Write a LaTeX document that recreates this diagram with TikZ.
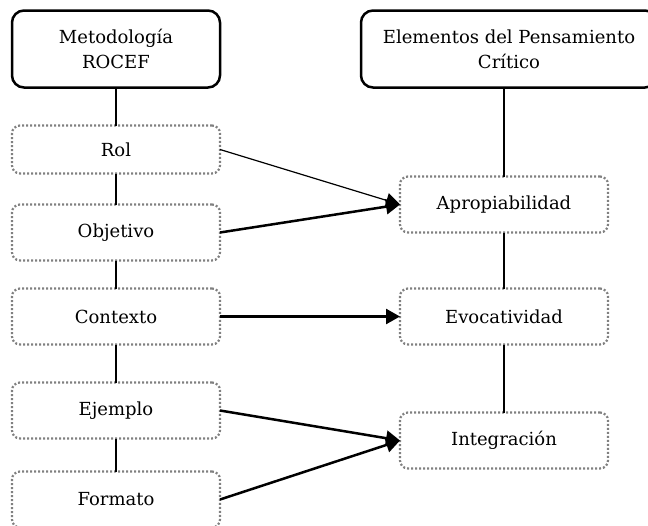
\documentclass[tikz,border=0pt]{standalone}
\usepackage{fontspec}
\setmainfont{DejaVu Serif}
\usepackage{tikz}
\usetikzlibrary{positioning,arrows.meta}
\tikzset{every picture/.style={line width=0.8pt}}
\tikzset{
  titulo/.style={draw, rounded corners=12pt, line width=2.5pt, align=center, inner sep=0pt, outer sep=0pt, minimum height=77pt, font=\fontsize{18}{25}\selectfont},
  elemento/.style={draw=gray, dash pattern=on 2pt off 2pt, line width=2.2pt, rounded corners=8pt, align=center, inner sep=0pt, outer sep=0pt, minimum width=208pt, minimum height=56pt, font=\fontsize{18}{25}\selectfont},
  enlace/.style={line width=1.2pt},
  flecha/.style={-{Triangle[length=14pt,width=15pt]}, line width=2.5pt},
  flechafina/.style={-{Triangle[length=14pt,width=15pt]}, line width=1.2pt}
}

\begin{document}
\begin{tikzpicture}[x=1pt, y=-1pt, node distance=30pt]
    \useasboundingbox (0,0) rectangle (648,525);

    % Column headers
    \node[titulo, minimum width=208pt] (M) at (116,49) {Metodología\\ROCEF};
    \node[titulo, minimum width=296pt] (E) at (509,49) {Elementos del Pensamiento\\Crítico};

    % ROCEF steps
    \node[elemento, minimum height=48pt, below=38pt of M] (L1) {Rol};
    \node[elemento, below=31pt of L1] (L2) {Objetivo};
    \node[elemento, below=28pt of L2] (L3) {Contexto};
    \node[elemento, below=38pt of L3] (L4) {Ejemplo};
    \node[elemento, below=33pt of L4] (L5) {Formato};

    % Critical thinking elements
    \node[elemento, below=89pt of E, xshift=-5pt] (C1) {Apropiabilidad};
    \node[elemento, below=56pt of C1] (C2) {Evocatividad};
    \node[elemento, below=68pt of C2] (C3) {Integración};

    % Vertical links
    \draw[enlace] (M) -- (L1);
    \draw[enlace] (L1) -- (L2);
    \draw[enlace] (L2) -- (L3);
    \draw[enlace] (L3) -- (L4);
    \draw[enlace] (L4) -- (L5);
    \draw[enlace] (C1.north |- E.south) -- (C1);
    \draw[enlace] (C1) -- (C2);
    \draw[enlace] (C2) -- (C3);

    % Mappings
    \draw[flechafina] (L1.east) -- (C1.west);
    \draw[flecha] (L2.east) -- (C1.west);
    \draw[flecha] (L3.east) -- (C2.west);
    \draw[flecha] (L4.east) -- (C3.west);
    \draw[flecha] (L5.east) -- (C3.west);
\end{tikzpicture}
\end{document}
